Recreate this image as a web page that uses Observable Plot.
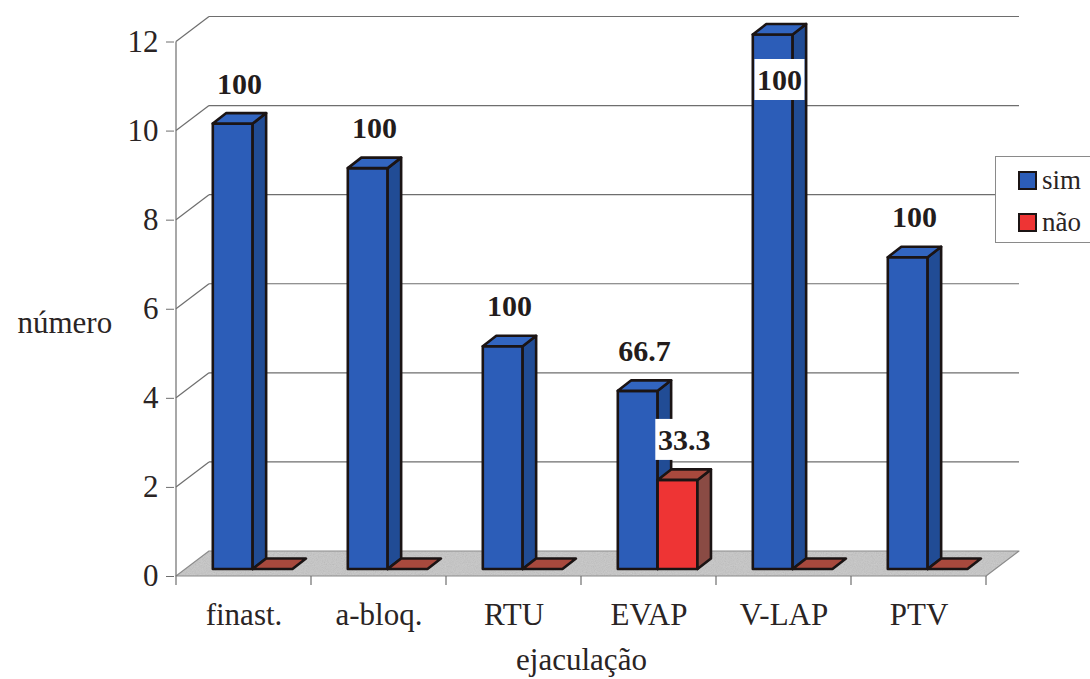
<!DOCTYPE html>
<html>
<head>
<meta charset="utf-8">
<script src="https://cdn.jsdelivr.net/npm/d3@7"></script>
<script src="https://cdn.jsdelivr.net/npm/@observablehq/plot@0.6"></script>
<style>
  html, body { margin: 0; padding: 0; background: #fff; overflow: hidden; }
  #wrap { position: relative; width: 1090px; height: 679px; font-family: "Liberation Serif", "Times New Roman", serif; }
  #legend { position: absolute; left: 995px; top: 156px; width: 110px; height: 87px; border: 1px solid #8a8a8a; box-sizing: border-box; background: #fff; }
  .li { position: absolute; left: 22px; display: flex; align-items: center; font-size: 27px; color: #2a2424; }
  .sw { width: 15px; height: 15px; border: 2px solid #1b1414; margin-right: 5px; }
</style>
</head>
<body>
<div id="wrap"></div>
<script>
// ---- data ----
const categories = ["finast.", "a-bloq.", "RTU", "EVAP", "V-LAP", "PTV"];
const simValues = [10, 9, 5, 4, 12, 7];
const naoValues = [0, 0, 0, 2, 0, 0];
const simLabels = ["100", "100", "100", "66.7", "100", "100"];
const naoLabels = [null, null, null, "33.3", null, null];
const seriesNames = ["sim", "não"];
const yTicks = [0, 2, 4, 6, 8, 10, 12];
const xTitle = "ejaculação";
const yTitle = "número";

// ---- styles ----
const FONT = '"Liberation Serif", "Times New Roman", serif';
const TEXT = "#2a2424";
const seriesStyle = [
  {front: "#2c5db8", side: "#214c95", top: "#3265c0"},
  {front: "#ee3434", side: "#8a4b44", top: "#a8493d"}
];
const WALL = {dx: 33, dy: -25};      // back wall depth
const BAR0 = {dx: 9, dy: -7};        // bar front plane
const BAR_D = {dx: 13.5, dy: -10.5}; // bar depth
const svgNS = "http://www.w3.org/2000/svg";
function el(tag, attrs) {
  const e = document.createElementNS(svgNS, tag);
  for (const k in attrs) e.setAttribute(k, attrs[k]);
  return e;
}
function poly(pts, fill, stroke, sw) {
  return el("polygon", {points: pts.map(p => p.join(",")).join(" "), fill, stroke, "stroke-width": sw, "stroke-linejoin": "round"});
}
function getScales(args) {
  return args.find(a => a && typeof a.x === "function" && typeof a.y === "function");
}

const series = [simValues, naoValues];
const labels = [simLabels, naoLabels];

function geometry(x, y, i, s) {
  const bw = x(categories[1]) - x(categories[0]);
  const left = x(categories[i]) + bw * 0.206 + s * bw * 0.295 + BAR0.dx;
  const right = left + bw * 0.295;
  const yb = v => y(v) + BAR0.dy;
  return {left, right, yb, bw};
}

// back wall, floor, axis lines
function scene(...args) {
  const {x, y} = getScales(args);
  const g = el("g", {});
  const defs = el("defs", {});
  const f = el("filter", {id: "speck", x: "0", y: "0", width: "100%", height: "100%"});
  f.appendChild(el("feTurbulence", {type: "fractalNoise", baseFrequency: "0.9", numOctaves: "2", result: "n"}));
  f.appendChild(el("feColorMatrix", {in: "n", type: "saturate", values: "0", result: "g"}));
  f.appendChild(el("feComposite", {in: "g", in2: "SourceGraphic", operator: "in"}));
  defs.appendChild(f);
  g.appendChild(defs);
  const bw = x(categories[1]) - x(categories[0]);
  const x0 = x(categories[0]), x1 = x(categories[categories.length - 1]) + bw;
  const y0 = y(0);
  // floor
  const floorPts = [[x0, y0], [x1, y0], [x1 + WALL.dx, y0 + WALL.dy], [x0 + WALL.dx, y0 + WALL.dy]];
  g.appendChild(poly(floorPts, "#c6c6c6", "none", 0));
  const speck = poly(floorPts, "#000", "none", 0);
  speck.setAttribute("filter", "url(#speck)");
  speck.setAttribute("opacity", "0.3");
  g.appendChild(speck);
  g.appendChild(poly(floorPts, "none", "#8c8c8c", 1.2));
  // gridlines (back wall + left wall)
  for (const v of yTicks) {
    if (v === 0) continue;
    const yv = y(v);
    g.appendChild(el("line", {x1: x0 + WALL.dx, y1: yv + WALL.dy, x2: x1 + WALL.dx, y2: yv + WALL.dy, stroke: "#6e6e6e", "stroke-width": 1.2}));
    g.appendChild(el("line", {x1: x0, y1: yv, x2: x0 + WALL.dx, y2: yv + WALL.dy, stroke: "#6e6e6e", "stroke-width": 1.2}));
  }
  // y axis line
  g.appendChild(el("line", {x1: x0, y1: y(0), x2: x0, y2: y(yTicks[yTicks.length - 1]), stroke: "#6e6e6e", "stroke-width": 1.2}));
  // x axis ticks at band edges
  for (let i = 0; i <= categories.length; i++) {
    const xi = x0 + i * bw;
    g.appendChild(el("line", {x1: xi, y1: y0, x2: xi, y2: y0 + 9, stroke: "#6e6e6e", "stroke-width": 1.2}));
  }
  return g;
}

// 3D bars
function bars(...args) {
  const {x, y} = getScales(args);
  const g = el("g", {});
  categories.forEach((c, i) => {
    series.forEach((vals, s) => {
      const v = vals[i];
      const {left, right, yb} = geometry(x, y, i, s);
      const st = seriesStyle[s];
      const t = yb(v), b = yb(0);
      const sw = 2.6, sc = "#1b1414";
      if (v > 0) {
        g.appendChild(poly([[left, t], [right, t], [right, b], [left, b]], st.front, sc, sw));
        g.appendChild(poly([[right, t], [right + BAR_D.dx, t + BAR_D.dy], [right + BAR_D.dx, b + BAR_D.dy], [right, b]], st.side, sc, sw));
      }
      g.appendChild(poly([[left, t], [right, t], [right + BAR_D.dx, t + BAR_D.dy], [left + BAR_D.dx, t + BAR_D.dy]], st.top, sc, sw));
    });
  });
  return g;
}

// data labels with white boxes
function dataLabels(...args) {
  const {x, y} = getScales(args);
  const g = el("g", {});
  const top = y(yTicks[yTicks.length - 1]);
  categories.forEach((c, i) => {
    series.forEach((vals, s) => {
      const txt = labels[s][i];
      if (txt == null) return;
      const {left, right, yb} = geometry(x, y, i, s);
      const cx = (left + right + BAR_D.dx) / 2;
      const cy = Math.max(yb(vals[i]) - 40, top + 38.5);
      const w = txt.length === 3 ? 45 : 53;
      g.appendChild(el("rect", {x: cx - w / 2 - 2.5, y: cy - 21, width: w + 5, height: 41, fill: "#fff"}));
      const t = el("text", {x: cx, y: cy + 10, "text-anchor": "middle", "font-family": FONT, "font-size": 30, "font-weight": "bold", fill: "#231c1c"});
      t.textContent = txt;
      g.appendChild(t);
    });
  });
  return g;
}

const chart = Plot.plot({
  width: 1090,
  height: 679,
  marginLeft: 174,
  marginRight: 102,
  marginTop: 41.5,
  marginBottom: 103,
  style: {fontFamily: FONT, color: TEXT, background: "transparent"},
  x: {type: "band", domain: categories, padding: 0},
  y: {domain: [0, 12]},
  marks: [
    scene,
    bars,
    Plot.axisY({ticks: yTicks, tickSize: 8, tickPadding: 8, fontSize: 31, stroke: "#6e6e6e", label: null}),
    Plot.axisX({tickSize: 0, tickPadding: 26, fontSize: 31, label: null}),
    Plot.text([yTitle], {frameAnchor: "left", dx: -157, dy: 14, textAnchor: "start", fontSize: 31, fill: TEXT}),
    Plot.text([xTitle], {frameAnchor: "bottom", dy: 93, textAnchor: "middle", fontSize: 31, fill: TEXT}),
    dataLabels
  ]
});
const wrap = document.getElementById("wrap");
wrap.appendChild(chart);

// legend
const legend = document.createElement("div");
legend.id = "legend";
seriesNames.forEach((name, s) => {
  const item = document.createElement("div");
  item.className = "li";
  item.style.top = (s === 0 ? 8 : 50) + "px";
  const sw = document.createElement("div");
  sw.className = "sw";
  sw.style.background = seriesStyle[s].front;
  const lab = document.createElement("span");
  lab.textContent = name;
  item.appendChild(sw);
  item.appendChild(lab);
  legend.appendChild(item);
});
wrap.appendChild(legend);
</script>
</body>
</html>
